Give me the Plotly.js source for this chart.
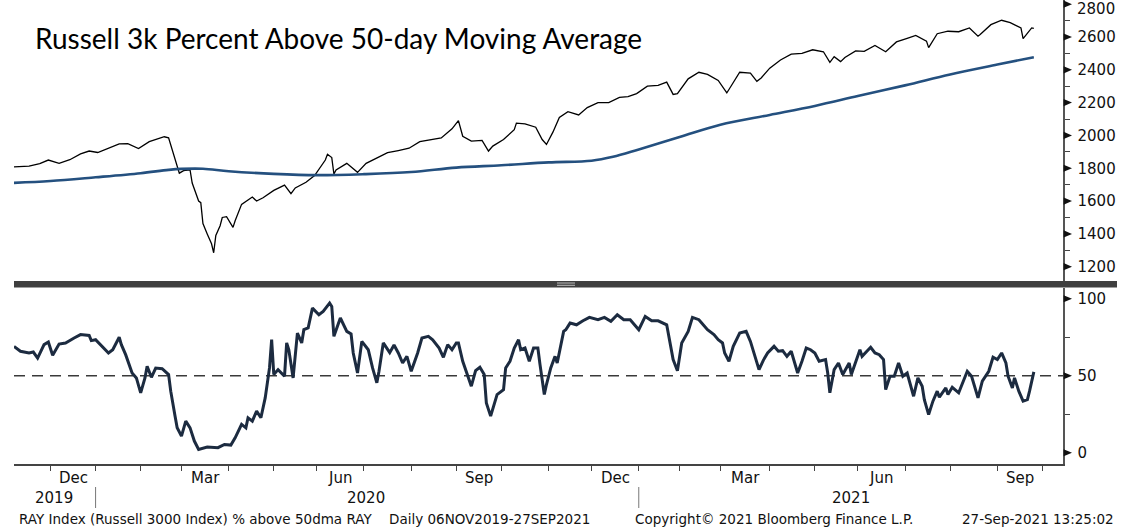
<!DOCTYPE html>
<html>
<head>
<meta charset="utf-8">
<script src="https://cdn.plot.ly/plotly-3.0.1.min.js"></script>
<style>
html,body{margin:0;padding:0;background:#ffffff;}
#chart{width:1128px;height:527px;}
</style>
</head>
<body>
<div id="chart"></div>
<script>
// ---------------- DATA ----------------
const titleText = 'Russell 3k Percent Above 50-day Moving Average';

// Russell 3000 index level (top panel)
const priceDates = ['2019-11-06','2019-11-08','2019-11-15','2019-11-22','2019-11-29','2019-12-06','2019-12-13','2019-12-20','2019-12-27','2020-01-03','2020-01-10','2020-01-17','2020-01-24','2020-01-31','2020-02-07','2020-02-14','2020-02-19','2020-02-21','2020-02-24','2020-02-25','2020-02-27','2020-02-28','2020-03-03','2020-03-06','2020-03-09','2020-03-12','2020-03-13','2020-03-16','2020-03-18','2020-03-20','2020-03-23','2020-03-24','2020-03-26','2020-03-27','2020-03-31','2020-04-03','2020-04-06','2020-04-09','2020-04-17','2020-04-21','2020-04-24','2020-05-01','2020-05-08','2020-05-13','2020-05-15','2020-05-22','2020-05-29','2020-06-05','2020-06-08','2020-06-10','2020-06-11','2020-06-12','2020-06-19','2020-06-26','2020-07-02','2020-07-10','2020-07-17','2020-07-24','2020-07-31','2020-08-07','2020-08-14','2020-08-21','2020-08-28','2020-09-02','2020-09-04','2020-09-11','2020-09-18','2020-09-23','2020-09-25','2020-10-02','2020-10-09','2020-10-12','2020-10-16','2020-10-23','2020-10-28','2020-10-30','2020-11-04','2020-11-06','2020-11-09','2020-11-13','2020-11-20','2020-11-27','2020-12-04','2020-12-11','2020-12-18','2020-12-24','2020-12-31','2021-01-08','2021-01-15','2021-01-22','2021-01-27','2021-01-29','2021-02-05','2021-02-12','2021-02-19','2021-02-26','2021-03-04','2021-03-05','2021-03-12','2021-03-19','2021-03-24','2021-03-26','2021-04-01','2021-04-09','2021-04-16','2021-04-23','2021-04-30','2021-05-07','2021-05-12','2021-05-14','2021-05-19','2021-05-21','2021-05-28','2021-06-04','2021-06-11','2021-06-18','2021-06-25','2021-07-02','2021-07-09','2021-07-16','2021-07-19','2021-07-23','2021-07-30','2021-08-06','2021-08-13','2021-08-19','2021-08-20','2021-08-27','2021-09-03','2021-09-10','2021-09-17','2021-09-20','2021-09-24','2021-09-27'];
const priceValues = [1808,1810,1813,1828,1850,1830,1852,1888,1905,1896,1922,1948,1950,1920,1962,1985,1992,1985,1940,1900,1800,1770,1785,1790,1710,1600,1590,1463,1400,1340,1285,1390,1450,1500,1505,1440,1480,1580,1625,1600,1620,1665,1697,1645,1680,1715,1755,1850,1885,1865,1765,1790,1830,1775,1830,1860,1895,1908,1922,1962,1975,1985,2040,2090,1995,1965,1970,1905,1935,1975,2035,2075,2070,2050,1975,1945,2020,2085,2110,2145,2125,2170,2200,2200,2232,2236,2255,2300,2305,2325,2250,2255,2345,2385,2372,2335,2260,2280,2385,2380,2330,2350,2410,2460,2495,2500,2522,2510,2445,2480,2450,2475,2515,2512,2548,2510,2570,2592,2610,2575,2535,2620,2635,2632,2655,2605,2615,2675,2702,2688,2655,2590,2655,2652];

// 200-day moving average (top panel)
const maDates = ['2019-11-06','2019-12-02','2020-01-02','2020-02-03','2020-02-21','2020-03-02','2020-03-16','2020-04-01','2020-05-01','2020-06-01','2020-07-01','2020-08-03','2020-09-01','2020-10-01','2020-11-02','2020-12-01','2020-12-15','2021-01-04','2021-02-01','2021-03-01','2021-04-01','2021-05-03','2021-06-01','2021-07-01','2021-08-02','2021-09-01','2021-09-27'];
const maValues = [1711,1722,1745,1770,1790,1796,1797,1782,1766,1758,1764,1777,1804,1818,1836,1846,1870,1915,1990,2065,2125,2180,2240,2305,2372,2432,2477];

// % of members above 50-day moving average (bottom panel)
const pctDates = ['2019-11-06','2019-11-11','2019-11-15','2019-11-19','2019-11-21','2019-11-26','2019-11-29','2019-12-03','2019-12-06','2019-12-11','2019-12-17','2019-12-20','2019-12-27','2019-12-30','2020-01-02','2020-01-08','2020-01-10','2020-01-14','2020-01-17','2020-01-21','2020-01-23','2020-01-28','2020-01-30','2020-02-03','2020-02-05','2020-02-06','2020-02-10','2020-02-12','2020-02-18','2020-02-21','2020-02-24','2020-02-26','2020-02-27','2020-03-02','2020-03-04','2020-03-06','2020-03-10','2020-03-12','2020-03-18','2020-03-25','2020-03-30','2020-04-02','2020-04-06','2020-04-09','2020-04-14','2020-04-15','2020-04-17','2020-04-21','2020-04-23','2020-04-27','2020-04-29','2020-04-30','2020-05-01','2020-05-05','2020-05-08','2020-05-11','2020-05-12','2020-05-14','2020-05-18','2020-05-20','2020-05-21','2020-05-26','2020-05-28','2020-06-02','2020-06-04','2020-06-09','2020-06-10','2020-06-11','2020-06-16','2020-06-19','2020-06-23','2020-06-24','2020-06-26','2020-06-30','2020-07-06','2020-07-08','2020-07-10','2020-07-13','2020-07-15','2020-07-20','2020-07-22','2020-07-24','2020-07-28','2020-07-30','2020-08-03','2020-08-06','2020-08-10','2020-08-13','2020-08-17','2020-08-20','2020-08-24','2020-08-26','2020-08-28','2020-09-01','2020-09-02','2020-09-04','2020-09-09','2020-09-11','2020-09-15','2020-09-17','2020-09-21','2020-09-22','2020-09-24','2020-09-25','2020-09-29','2020-10-02','2020-10-05','2020-10-07','2020-10-09','2020-10-13','2020-10-14','2020-10-16','2020-10-20','2020-10-22','2020-10-26','2020-10-27','2020-10-29','2020-10-30','2020-11-03','2020-11-05','2020-11-06','2020-11-11','2020-11-12','2020-11-16','2020-11-19','2020-11-24','2020-11-30','2020-12-04','2020-12-09','2020-12-14','2020-12-17','2020-12-22','2020-12-28','2021-01-04','2021-01-07','2021-01-12','2021-01-15','2021-01-22','2021-01-27','2021-01-29','2021-02-02','2021-02-05','2021-02-09','2021-02-12','2021-02-19','2021-02-24','2021-02-26','2021-03-02','2021-03-03','2021-03-05','2021-03-09','2021-03-12','2021-03-17','2021-03-19','2021-03-23','2021-03-25','2021-03-29','2021-03-31','2021-04-06','2021-04-08','2021-04-12','2021-04-14','2021-04-16','2021-04-21','2021-04-23','2021-04-27','2021-04-29','2021-05-03','2021-05-05','2021-05-10','2021-05-11','2021-05-12','2021-05-14','2021-05-18','2021-05-20','2021-05-25','2021-05-26','2021-06-01','2021-06-02','2021-06-03','2021-06-09','2021-06-11','2021-06-15','2021-06-17','2021-06-18','2021-06-22','2021-06-24','2021-06-28','2021-06-30','2021-07-02','2021-07-07','2021-07-08','2021-07-12','2021-07-14','2021-07-15','2021-07-19','2021-07-21','2021-07-23','2021-07-26','2021-07-29','2021-07-30','2021-08-03','2021-08-06','2021-08-10','2021-08-12','2021-08-16','2021-08-19','2021-08-23','2021-08-26','2021-08-30','2021-09-01','2021-09-03','2021-09-08','2021-09-09','2021-09-13','2021-09-14','2021-09-16','2021-09-20','2021-09-22','2021-09-23','2021-09-24','2021-09-27'];
const pctValues = [69,65.9,64.8,65.4,61.5,70.2,71.9,63.3,70.6,71.3,74.5,76.7,76.2,72.8,73.4,68,64.8,66.9,75,70.2,63.7,51.8,48.6,38.9,48.6,56.2,49,55,54.6,50.8,40,23.8,16.2,10.8,20.5,16.2,7.6,2.2,3.7,3.3,5.4,5,9.7,18.4,16.2,22.7,20.5,27,22.7,35.6,55.1,73.4,50.8,54,49.7,71.3,66.9,48.6,77.7,71.3,79.9,81,93.9,89.6,91.8,97.2,95,75.6,87.5,78.8,77.1,64.8,51.8,72.3,66.9,55.1,45.4,52.9,71.3,65,70,64.8,58.3,62.6,52.9,64.8,74.5,75.6,73.4,68,62,70.2,66.9,71.3,71.3,59.4,50.8,43.2,53.3,55.5,50.8,32.4,23.8,28.1,37.8,41,55.1,59.4,68,73.4,66.9,68,59.4,68,68,57.2,37.8,44.3,55.1,62.6,58.3,78.8,79.9,84.2,83.1,85.7,87.9,86.4,87.9,85.3,89.6,86.4,86.4,79.9,88.5,85.7,85.7,83.1,60.5,53.3,71.3,78.8,87.9,86.4,79.9,76.7,73.4,71.3,64.8,59.4,69.1,77.7,78.8,72.3,63.7,54,60,64.8,69.1,65.9,66.3,62.6,65.9,51.8,59.4,68,66.9,64.8,59.4,60.5,51.8,38.9,54,58.3,50.8,58.3,50.8,62.6,66.9,62.6,68.5,64.8,63.7,60.5,41,49.7,49.7,58.3,49.7,51.8,42.1,36.7,48.6,43.2,34.5,24.8,33.5,40,36.1,42.1,37.8,42.5,38.9,46.5,52.9,49.7,35.6,46.5,52.9,62,60.5,64.8,58.3,49.7,42.1,48.6,40,33.5,34.5,40,46.5,52.5];

const thresholdLevel = 50;

// axis ticks / labels
const priceTicks = [1200,1400,1600,1800,2000,2200,2400,2600,2800];
const priceMinorTicks = [1300,1500,1700,1900,2100,2300,2500,2700];
const pctTicks = [0,50,100];
const pctMinorTicks = [25,75];
const monthTickDates = ['2019-12-02','2020-01-02','2020-02-03','2020-03-02','2020-04-01','2020-05-01','2020-06-01','2020-07-01','2020-08-03','2020-09-01','2020-10-01','2020-11-02','2020-12-01','2021-01-04','2021-02-01','2021-03-01','2021-04-01','2021-05-03','2021-06-01','2021-07-01','2021-08-02','2021-09-01','2021-10-01'];
const monthLabels = ['Dec','Mar','Jun','Sep','Dec','Mar','Jun','Sep'];
const monthLabelDates = ['2019-12-16 12:00','2020-03-17','2020-06-16','2020-09-16 12:00','2020-12-16','2021-03-16 12:00','2021-06-16','2021-09-16 12:00'];
const yearLabels = ['2019','2020','2021'];
const yearDividerDates = ['2020-01-02','2021-01-04'];
const marketHolidays = ['2019-11-28','2019-12-25','2020-01-01','2020-01-20','2020-02-17','2020-04-10','2020-05-25','2020-07-03','2020-09-07','2020-11-26','2020-12-25','2021-01-01','2021-01-18','2021-02-15','2021-04-02','2021-05-31','2021-07-05','2021-09-06'];
const footerTexts = ['RAY Index (Russell 3000 Index) % above 50dma RAY','Daily 06NOV2019-27SEP2021','Copyright\u00A9 2021 Bloomberg Finance L.P.','27-Sep-2021 13:25:02'];

// ---------------- LAYOUT HELPERS ----------------
const W = 1128, H = 527;
const L = 14, R = 1063, T = 0, B = 464;
const pw = R - L, ph = B - T;
const py = y => (B - y) / ph;        // pixel y -> paper y
const pxp = x => (x - L) / pw;        // pixel x -> paper x

const breaks = [{bounds: ['sat', 'mon']}, {values: marketHolidays}];
const xRange = ['2019-11-06', '2021-10-14 14:00'];
const topRange = [1112.9, 2825.4], botRange = [-7.3, 107.3];
const topDomain = [py(281), 1], botDomain = [0, py(287.5)];
const tickFont = {family: 'DejaVu Sans, Verdana, sans-serif', size: 15, color: '#111'};

const traces = [
  {x: priceDates, y: priceValues, xaxis: 'x2', yaxis: 'y2', type: 'scatter', mode: 'lines',
   line: {color: '#000000', width: 1.3}, hoverinfo: 'skip'},
  {x: maDates, y: maValues, xaxis: 'x2', yaxis: 'y2', type: 'scatter', mode: 'lines',
   line: {color: '#24507f', width: 2.6, shape: 'spline'}, hoverinfo: 'skip'},
  {x: pctDates, y: pctValues, xaxis: 'x', yaxis: 'y', type: 'scatter', mode: 'lines',
   line: {color: '#1c2b40', width: 3}, hoverinfo: 'skip'}
];

const shapes = [
  // panel separator bar
  {type: 'rect', xref: 'paper', yref: 'paper', x0: 0, x1: pxp(1117), y0: py(287.5), y1: py(281),
   fillcolor: '#3f3f3f', line: {width: 0}, layer: 'above'},
  {type: 'line', xref: 'paper', yref: 'paper', x0: pxp(557), x1: pxp(575), y0: py(283), y1: py(283),
   line: {color: '#bdbdbd', width: 1}, layer: 'above'},
  {type: 'line', xref: 'paper', yref: 'paper', x0: pxp(557), x1: pxp(575), y0: py(285.3), y1: py(285.3),
   line: {color: '#bdbdbd', width: 1}, layer: 'above'},
  // 50% threshold
  {type: 'line', xref: 'paper', yref: 'y', x0: 0, x1: 1, y0: thresholdLevel, y1: thresholdLevel,
   line: {color: '#3a3a3a', width: 1.5, dash: '11px,7px'}, layer: 'below'}
];
yearDividerDates.forEach(d => shapes.push({
  type: 'line', xref: 'x', yref: 'paper', x0: d, x1: d, y0: py(487), y1: py(508),
  line: {color: '#777', width: 1}
}));
// arrow-shaped major tick marks on the right axes (half-height 3.5px converted to data units)
function arrowTicks(vals, yref, range, domain) {
  const unitsPerPx = (range[1] - range[0]) / ((domain[1] - domain[0]) * ph);
  const h = 3.6 * unitsPerPx;
  const x0 = 1 + 0.6 / pw, x1 = pxp(1072);
  vals.forEach(v => shapes.push({
    type: 'path', xref: 'paper', yref: yref,
    path: `M ${x0},${v - h} L ${x1},${v} L ${x0},${v + h} Z`,
    fillcolor: '#111', line: {width: 0}, layer: 'above'
  }));
}
arrowTicks(priceTicks, 'y2', topRange, topDomain);
arrowTicks(pctTicks, 'y', botRange, botDomain);

const annotations = [];
monthLabels.forEach((m, i) => annotations.push({
  text: m, x: monthLabelDates[i], xref: 'x', y: py(478), yref: 'paper',
  showarrow: false, xanchor: 'center', yanchor: 'middle', font: tickFont
}));
const yearPos = [pxp(54), pxp(366), pxp(850.5)];
yearLabels.forEach((t, i) => annotations.push({
  text: t, x: yearPos[i], xref: 'paper', y: py(498), yref: 'paper',
  showarrow: false, xanchor: 'center', yanchor: 'middle', font: tickFont
}));
const footFont = {family: 'DejaVu Sans, Verdana, sans-serif', size: 13.5, color: '#111'};
const footPos = [[pxp(17), 'left'], [pxp(387), 'left'], [pxp(633), 'left'], [pxp(1116), 'right']];
footerTexts.forEach((t, i) => annotations.push({
  text: t, x: footPos[i][0], xref: 'paper', xanchor: footPos[i][1], y: py(519), yref: 'paper',
  yanchor: 'middle', showarrow: false, font: footFont
}));
// top label of the price axis sits just inside the chart edge
const topTick = priceTicks[priceTicks.length - 1];
annotations.push({
  text: String(topTick), x: pxp(1075), xref: 'paper', xanchor: 'left', y: topTick, yref: 'y2',
  yshift: -5, yanchor: 'middle', showarrow: false, font: tickFont
});

const layout = {
  width: W, height: H,
  margin: {l: L, r: W - R, t: T, b: H - B, autoexpand: false},
  paper_bgcolor: '#ffffff', plot_bgcolor: '#ffffff',
  showlegend: false, hovermode: false,
  title: {text: titleText, font: {family: 'Lato, Calibri, sans-serif', size: 28, color: '#000'},
          x: 35 / W, xanchor: 'left', xref: 'container', y: 1 - 39 / H, yanchor: 'middle', yref: 'container'},
  xaxis: {
    type: 'date', domain: [0, 1], anchor: 'y', range: xRange, rangebreaks: breaks,
    tickmode: 'array', tickvals: monthTickDates, ticktext: monthTickDates.map(() => ''),
    ticks: 'outside', ticklen: 5, tickwidth: 1, tickcolor: '#444',
    showline: true, linecolor: '#444', linewidth: 1.5, showgrid: false, zeroline: false, fixedrange: true
  },
  xaxis2: {
    type: 'date', domain: [0, 1], anchor: 'y2', matches: 'x', range: xRange, rangebreaks: breaks,
    showticklabels: false, ticks: '', showline: false, showgrid: false, zeroline: false, fixedrange: true
  },
  yaxis: {
    domain: botDomain, anchor: 'x', side: 'right', range: botRange,
    tickmode: 'array', tickvals: pctTicks, ticks: 'outside', ticklen: 8, tickwidth: 1, tickcolor: 'rgba(0,0,0,0)',
    minor: {tickmode: 'array', tickvals: pctMinorTicks, ticks: 'outside', ticklen: 5, tickwidth: 1, tickcolor: '#444'},
    showline: true, linecolor: '#555', linewidth: 1.5, showgrid: false, zeroline: false,
    tickfont: tickFont, ticklabelstandoff: 2, fixedrange: true
  },
  yaxis2: {
    domain: topDomain, anchor: 'x2', side: 'right', range: topRange,
    tickmode: 'array', tickvals: priceTicks, ticktext: priceTicks.map(v => v === topTick ? '' : String(v)),
    ticks: 'outside', ticklen: 8, tickwidth: 1, tickcolor: 'rgba(0,0,0,0)',
    minor: {tickmode: 'array', tickvals: priceMinorTicks, ticks: 'outside', ticklen: 5, tickwidth: 1, tickcolor: '#444'},
    showline: true, linecolor: '#555', linewidth: 1.5, showgrid: false, zeroline: false,
    tickfont: tickFont, ticklabelstandoff: 2, fixedrange: true
  },
  shapes: shapes,
  annotations: annotations
};

Plotly.newPlot('chart', traces, layout, {displayModeBar: false, staticPlot: true});
</script>
</body>
</html>
